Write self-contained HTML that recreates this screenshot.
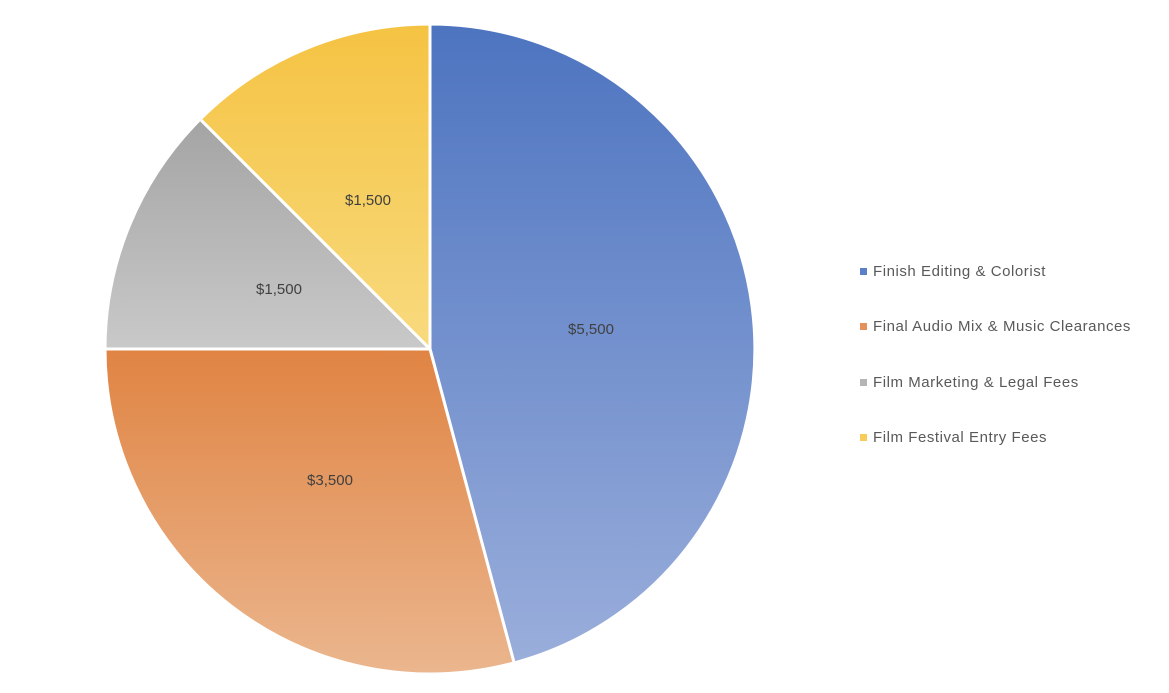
<!DOCTYPE html>
<html><head><meta charset="utf-8"><style>
html,body{margin:0;padding:0;background:#fff;}
svg{display:block;}
</style></head><body>
<svg width="1169" height="693" viewBox="0 0 1169 693" xmlns="http://www.w3.org/2000/svg">
<defs>
<linearGradient id="gb" x1="0" y1="0" x2="0" y2="1"><stop offset="0" stop-color="#4d74c0"/><stop offset="1" stop-color="#9aaedb"/></linearGradient>
<linearGradient id="go" x1="0" y1="0" x2="0" y2="1"><stop offset="0" stop-color="#e08443"/><stop offset="1" stop-color="#ebb68e"/></linearGradient>
<linearGradient id="gg" x1="0" y1="0" x2="0" y2="1"><stop offset="0" stop-color="#a4a4a4"/><stop offset="1" stop-color="#c9c9c9"/></linearGradient>
<linearGradient id="gy" x1="0" y1="0" x2="0" y2="1"><stop offset="0" stop-color="#f5c343"/><stop offset="1" stop-color="#f8da7e"/></linearGradient>
</defs>
<g stroke="#fff" stroke-width="3" stroke-linejoin="round">
<path d="M430,349 L430,24 A325,325 0 0 1 514.1,662.9 Z" fill="url(#gb)"/>
<path d="M430,349 L514.1,662.9 A325,325 0 0 1 105,349 Z" fill="url(#go)"/>
<path d="M430,349 L105,349 A325,325 0 0 1 200.2,119.2 Z" fill="url(#gg)"/>
<path d="M430,349 L200.2,119.2 A325,325 0 0 1 430,24 Z" fill="url(#gy)"/>
</g>
<g font-family="Liberation Sans, sans-serif" font-size="15" fill="#404040" text-anchor="middle">
<text x="591" y="334">$5,500</text>
<text x="330" y="485">$3,500</text>
<text x="279" y="294">$1,500</text>
<text x="368" y="205">$1,500</text>
</g>
<g font-family="Liberation Sans, sans-serif" font-size="15" fill="#595959" letter-spacing="0.55">
<rect x="860" y="268" width="7" height="7" fill="#5b7fc7"/>
<text x="873" y="276">Finish Editing &amp; Colorist</text>
<rect x="860" y="323" width="7" height="7" fill="#e4915a"/>
<text x="873" y="331">Final Audio Mix &amp; Music Clearances</text>
<rect x="860" y="379" width="7" height="7" fill="#b5b5b5"/>
<text x="873" y="387">Film Marketing &amp; Legal Fees</text>
<rect x="860" y="434" width="7" height="7" fill="#f7cc5a"/>
<text x="873" y="442">Film Festival Entry Fees</text>
</g>
</svg>
</body></html>
